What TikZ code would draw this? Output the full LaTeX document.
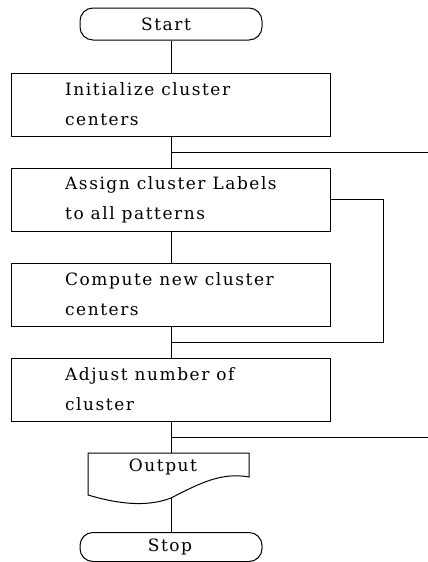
\documentclass[tikz,border=0pt]{standalone}
\usepackage{fontspec}
\setmainfont{DejaVu Serif}[LetterSpace=9]
\begin{document}
\begin{tikzpicture}[x=1pt,y=-1pt,
  box/.style={draw, line width=1pt, minimum width=319pt, minimum height=63pt, inner sep=0pt},
  term/.style={draw, line width=1pt, rounded corners=13pt, minimum width=182pt, minimum height=32pt, inner sep=0pt},
  txt/.style={font=\fontsize{17}{30}\selectfont, align=left, inner sep=0pt},
  conn/.style={line width=0.8pt}]
\useasboundingbox (0,0) rectangle (428,562);

% terminals
\node[term] (start) at (171,24) {};
\node[txt] (startT) at (166,24) {Start};

% process boxes
\node[box] (init) at (171,104.5) {};
\node[txt, anchor=west] (initT) at (65,104.5) {Initialize cluster\\centers};
\node[box] (assign) at (171,199.5) {};
\node[txt, anchor=west] (assignT) at (65,199.5) {Assign cluster Labels\\to all patterns};
\node[box] (compute) at (171,294.5) {};
\node[txt, anchor=west] (computeT) at (65,294.5) {Compute new cluster\\centers};
\node[box] (adjust) at (171,389.5) {};
\node[txt, anchor=west] (adjustT) at (65,389.5) {Adjust number of\\cluster};

% output document shape
\coordinate (outN) at (171,453);
\coordinate (outS) at (171,498);
\draw[line width=1pt] (88,453) -- (249,453) -- (249,477)
  .. controls (222,472) and (200,483) .. (outS)
  .. controls (145,508) and (115,503) .. (88,495) -- cycle;
\node[txt] (outT) at (163,467) {Output};

\node[term, minimum height=29pt] (stop) at (171,547) {};
\node[txt] (stopT) at (170,547) {Stop};

% connectors
\coordinate (j1) at (171,152);
\coordinate (e1) at (428,152);
\coordinate (j2) at (171,342);
\coordinate (l1) at (383,199.5);
\coordinate (l2) at (383,342);
\coordinate (j3) at (171,437);
\coordinate (e3) at (428,437);

\draw[conn] (start.south) -- (init.north);
\draw[conn] (init.south) -- (assign.north);
\draw[conn] (j1) -- (e1);
\draw[conn] (assign.south) -- (compute.north);
\draw[conn] (compute.south) -- (adjust.north);
\draw[conn] (assign.east) -- (l1) -- (l2) -- (j2);
\draw[conn] (adjust.south) -- (outN);
\draw[conn] (j3) -- (e3);
\draw[conn] (outS) -- (stop.north);
\end{tikzpicture}
\end{document}
